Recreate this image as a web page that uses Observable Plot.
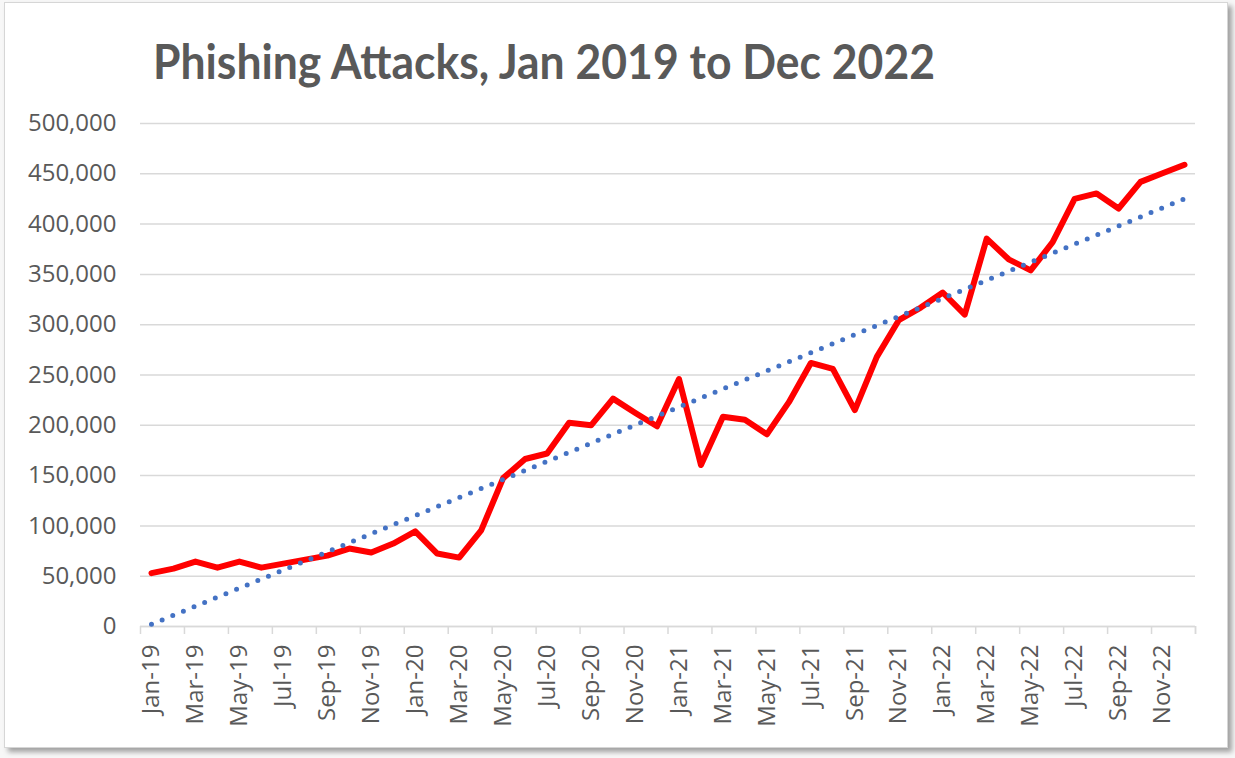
<!DOCTYPE html>
<html><head><meta charset="utf-8">
<script src="https://cdn.jsdelivr.net/npm/d3@7"></script>
<script src="https://cdn.jsdelivr.net/npm/@observablehq/plot@0.6"></script>
<style>
body{margin:0;background:#f7f7f7;width:1235px;height:758px;overflow:hidden;position:relative;}
#frame{position:absolute;left:4px;top:2px;width:1222px;height:744px;border:1.5px solid #d6d6d6;box-shadow:4px 4px 5px rgba(0,0,0,0.35);background:#fff;}
#title{position:absolute;left:153px;top:37px;font-family:Lato,sans-serif;font-weight:700;font-size:48px;line-height:48px;color:#595959;white-space:nowrap;transform-origin:0 0;}
#chart{position:absolute;left:0;top:100px;}
</style></head>
<body>
<div id="frame"></div>
<div id="title">Phishing Attacks, Jan 2019 to Dec 2022</div>
<div id="chart"></div>
<script>
const months = ["Jan-19","Feb-19","Mar-19","Apr-19","May-19","Jun-19","Jul-19","Aug-19","Sep-19","Oct-19","Nov-19","Dec-19",
"Jan-20","Feb-20","Mar-20","Apr-20","May-20","Jun-20","Jul-20","Aug-20","Sep-20","Oct-20","Nov-20","Dec-20",
"Jan-21","Feb-21","Mar-21","Apr-21","May-21","Jun-21","Jul-21","Aug-21","Sep-21","Oct-21","Nov-21","Dec-21",
"Jan-22","Feb-22","Mar-22","Apr-22","May-22","Jun-22","Jul-22","Aug-22","Sep-22","Oct-22","Nov-22","Dec-22"];
const attacks = [53000,57500,64500,58500,64500,58500,62500,66500,70500,77500,73500,82500,
94500,72500,68500,95500,147500,166500,172000,202500,200000,226500,212500,199000,
246000,160500,208500,205500,191000,223000,262000,256000,215000,268000,304500,317000,
332000,310000,385500,365000,354000,382000,425000,430500,415500,442000,450500,459000];
const yTicks = [0,50000,100000,150000,200000,250000,300000,350000,400000,450000,500000];

const data = months.map((m,i)=>({i, month:m, value:attacks[i]}));
const labelIdx = months.map((m,i)=>i).filter(i=>i%2===0);
const boundaries = d3.range(-0.5, months.length, 2).concat([months.length-0.5]);
const grey = "#d9d9d9";

const plot = Plot.plot({
  width: 1235,
  height: 646,
  marginLeft: 140,
  marginRight: 40,
  marginTop: 23,
  marginBottom: 120,
  style: {fontFamily: "'Open Sans', sans-serif", fontSize: "24px", color: "#595959", background: "transparent", overflow: "visible"},
  x: {type: "linear", domain: [-0.5, months.length - 0.5]},
  y: {domain: [0, 500000]},
  marks: [
    Plot.gridY(yTicks, {stroke: grey, strokeOpacity: 1, strokeWidth: 1.5}),
    Plot.axisY(yTicks, {tickSize: 0, tickPadding: 24, tickFormat: d3.format(","), label: null, fontSize: 24}),
    Plot.axisX(boundaries, {tickSize: 8, stroke: grey, strokeWidth: 1.5, tickFormat: () => "", label: null}),
    Plot.axisX(labelIdx, {tickSize: 0, tickPadding: 18, tickRotate: -90, tickFormat: i => months[i], label: null, fontSize: 24}),
    Plot.ruleY([0], {stroke: grey, strokeWidth: 1.5}),
    Plot.line(data, {x: "i", y: "value", stroke: "#ff0000", strokeWidth: 6, strokeLinejoin: "round", strokeLinecap: "round"}),
    Plot.linearRegressionY(data, {x: "i", y: "value", stroke: "#4472C4", strokeWidth: 5, strokeDasharray: "0 11.5", strokeLinecap: "round", ci: 0})
  ]
});
document.getElementById("chart").appendChild(plot);

const t = document.getElementById("title");
const w = t.getBoundingClientRect().width;
t.style.transform = `scaleX(${782 / w})`;
</script>
</body></html>
